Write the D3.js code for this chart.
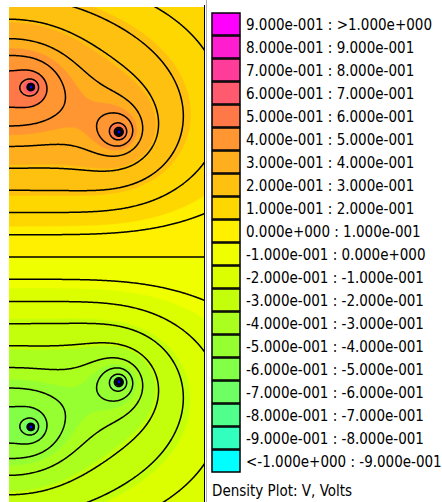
<!DOCTYPE html>
<html>
<head>
<meta charset="utf-8">
<script src="https://cdn.jsdelivr.net/npm/d3@7"></script>
<style>
  body { margin: 0; background: #fff; }
  svg { display: block; }
  text { font-family: "DejaVu Sans Condensed", "DejaVu Sans", sans-serif; font-size: 15px; fill: #000; }
</style>
</head>
<body>
<script>
// point charges: position (cm) and relative strength
var chargeX = [2.2, 11.0, 2.2, 11.0];
var chargeY = [17.0, 12.5, -17.0, -12.5];
var chargeQ = [0.87, 1.14, -0.87, -1.14];

// solution window (cm)
var domainX = [0, 19.5];
var domainY = [-24.5, 25.0];

// density plot bands, volts (low -> high)
var bandEdges = [-0.9, -0.8, -0.7, -0.6, -0.5, -0.4, -0.3, -0.2, -0.1, 0.0,
                 0.1, 0.2, 0.3, 0.4, 0.5, 0.6, 0.7, 0.8, 0.9];
var bandColors = ['#00ffff', '#32ffbe', '#50ff8c', '#6eff64', '#82ff46', '#96ff32',
                  '#aaff1e', '#c3ff0a', '#dcff00', '#f0ff00', '#fff000', '#ffd700',
                  '#ffc10f', '#ffaf1e', '#ff9632', '#ff7848', '#ff5a6e', '#ff3c99',
                  '#ff1ecf', '#ff00ff'];
// legend rows, top -> bottom
var bandLabels = ['9.000e-001 : >1.000e+000', '8.000e-001 : 9.000e-001',
                  '7.000e-001 : 8.000e-001', '6.000e-001 : 7.000e-001',
                  '5.000e-001 : 6.000e-001', '4.000e-001 : 5.000e-001',
                  '3.000e-001 : 4.000e-001', '2.000e-001 : 3.000e-001',
                  '1.000e-001 : 2.000e-001', '0.000e+000 : 1.000e-001',
                  '-1.000e-001 : 0.000e+000', '-2.000e-001 : -1.000e-001',
                  '-3.000e-001 : -2.000e-001', '-4.000e-001 : -3.000e-001',
                  '-5.000e-001 : -4.000e-001', '-6.000e-001 : -5.000e-001',
                  '-7.000e-001 : -6.000e-001', '-8.000e-001 : -7.000e-001',
                  '-9.000e-001 : -8.000e-001', '<-1.000e+000 : -9.000e-001'];

// contour lines, volts
var contourLevels = [-0.864, -0.792, -0.72, -0.648, -0.576, -0.504, -0.432, -0.36, -0.288,
                     -0.216, -0.144, -0.072, 0, 0.072, 0.144, 0.216, 0.288, 0.36, 0.432,
                     0.504, 0.576, 0.648, 0.72, 0.792, 0.864];

// field model: line charges in a strip grounded at y=+-plateY, symmetry wall at x=0
var plateY = 34;
var gain = 0.1;
var core = 0.12;

var W = 442, H = 502;
var plot = {left: 9, right: 204, top: 7, bottom: 502};

var x = d3.scaleLinear().domain(domainX).range([plot.left, plot.right]);
var y = d3.scaleLinear().domain(domainY).range([plot.bottom, plot.top]);

// Green's function of a grounded strip |y| < plateY
function strip(px, py, cx, cy) {
  var L = 2 * plateY;
  var ch = Math.cosh(Math.PI * (px - cx) / L);
  var e = 0.5 * Math.pow(Math.PI * core / L, 2);
  var num = ch - Math.cos(Math.PI * (py + cy + L) / L) + e;
  var den = ch - Math.cos(Math.PI * (py - cy) / L) + e;
  return 0.5 * Math.log(num / den);
}

function potential(px, py) {
  var v = 0;
  for (var c = 0; c < chargeX.length; c++) {
    v += chargeQ[c] * (strip(px, py, chargeX[c], chargeY[c]) + strip(px, py, -chargeX[c], chargeY[c]));
  }
  return gain * v;
}

// sample grid a little wider than the plot on every side
var gx0 = plot.left - 2, gy0 = plot.top - 2;
var nx = plot.right - plot.left + 4, ny = plot.bottom - plot.top + 4;
var values = new Float64Array(nx * ny);
for (var j = 0; j < ny; j++) {
  var vy = y.invert(gy0 + j + 0.5);
  for (var i = 0; i < nx; i++) {
    values[i + j * nx] = potential(x.invert(gx0 + i + 0.5), vy);
  }
}

var svg = d3.select('body').append('svg')
    .attr('width', W)
    .attr('height', H);

svg.append('defs').append('clipPath')
    .attr('id', 'plotclip')
  .append('rect')
    .attr('x', plot.left)
    .attr('y', plot.top)
    .attr('width', plot.right - plot.left)
    .attr('height', plot.bottom - plot.top);

var field = svg.append('g')
    .attr('clip-path', 'url(#plotclip)');

field.append('rect')
    .attr('x', plot.left)
    .attr('y', plot.top)
    .attr('width', plot.right - plot.left)
    .attr('height', plot.bottom - plot.top)
    .attr('fill', bandColors[0]);

var grid = field.append('g')
    .attr('transform', 'translate(' + gx0 + ',' + gy0 + ')');

var path = d3.geoPath();

// filled bands
var bands = d3.contours().size([nx, ny]).thresholds(bandEdges)(values);
grid.selectAll('path.band')
  .data(bands)
  .enter().append('path')
    .attr('class', 'band')
    .attr('d', path)
    .attr('fill', function(d, i) { return bandColors[i + 1]; })
    .attr('stroke', function(d, i) { return bandColors[i + 1]; })
    .attr('stroke-width', 0.5);

// contour lines
var lines = d3.contours().size([nx, ny]).thresholds(contourLevels)(values);
grid.selectAll('path.line')
  .data(lines)
  .enter().append('path')
    .attr('class', 'line')
    .attr('d', path)
    .attr('fill', 'none')
    .attr('stroke', '#000')
    .attr('stroke-width', 1.5)
    .attr('stroke-linejoin', 'round');

// charge points
var pts = field.selectAll('g.charge')
  .data(chargeX.map(function(d, i) { return {x: d, y: chargeY[i]}; }))
  .enter().append('g')
    .attr('class', 'charge');
pts.append('circle')
    .attr('cx', function(d) { return x(d.x); })
    .attr('cy', function(d) { return y(d.y); })
    .attr('r', 4)
    .attr('fill', '#000');
pts.append('circle')
    .attr('cx', function(d) { return x(d.x); })
    .attr('cy', function(d) { return y(d.y); })
    .attr('r', 1.4)
    .attr('fill', '#0000ff');

// right edge of the plot
svg.append('line')
    .attr('x1', plot.right + 0.5)
    .attr('x2', plot.right + 0.5)
    .attr('y1', plot.top - 2)
    .attr('y2', H)
    .attr('stroke', '#000')
    .attr('stroke-width', 1);
svg.append('line')
    .attr('x1', 206.5)
    .attr('x2', 206.5)
    .attr('y1', 0)
    .attr('y2', H)
    .attr('stroke', '#b0b0b0')
    .attr('stroke-width', 1);

// legend
var row = d3.scaleLinear().domain([0, bandLabels.length]).range([13, 13 + 23 * bandLabels.length]);
var legend = svg.append('g').attr('class', 'legend');
var items = legend.selectAll('g')
  .data(bandLabels)
  .enter().append('g');
items.append('rect')
    .attr('x', 212)
    .attr('y', function(d, i) { return row(i); })
    .attr('width', 28)
    .attr('height', 22)
    .attr('fill', function(d, i) { return bandColors[bandColors.length - 1 - i]; })
    .attr('stroke', '#000')
    .attr('stroke-width', 1.5);
items.append('text')
    .attr('x', 246)
    .attr('y', function(d, i) { return row(i) + 16.5; })
    .text(function(d) { return d; });

legend.append('text')
    .attr('x', 212)
    .attr('y', 496)
    .text('Density Plot: V, Volts');
</script>
</body>
</html>
